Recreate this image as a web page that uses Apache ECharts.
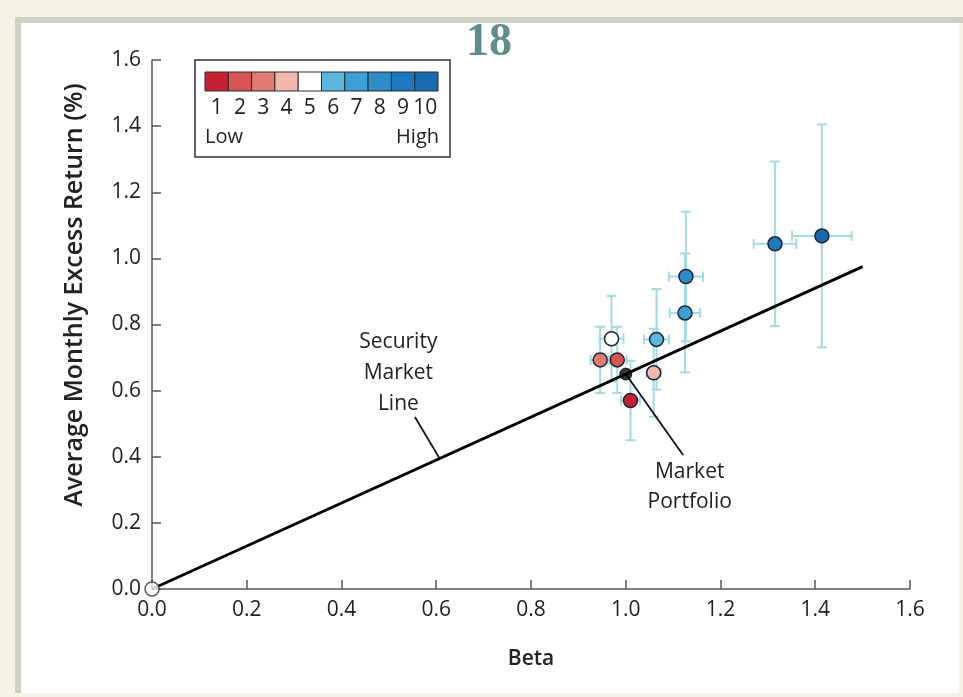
<!DOCTYPE html>
<html>
<head>
<meta charset="utf-8">
<script src="https://cdn.jsdelivr.net/npm/echarts@6/dist/echarts.min.js"></script>
<style>
  html, body { margin: 0; padding: 0; background: #f6f4e6; }
  #main { width: 963px; height: 697px; }
</style>
</head>
<body>
<div id="main"></div>
<script>
// decile portfolios, sorted by beta estimate
var deciles = [1, 2, 3, 4, 5, 6, 7, 8, 9, 10];
var betas = [1.01, 0.982, 0.946, 1.059, 0.97, 1.065, 1.125, 1.127, 1.315, 1.414];
var returns = [0.57, 0.693, 0.693, 0.654, 0.757, 0.755, 0.835, 0.945, 1.044, 1.068];
var returnErr = [0.12, 0.10, 0.10, 0.133, 0.129, 0.152, 0.18, 0.196, 0.249, 0.337];
var betaErr = [0.02, 0.02, 0.02, 0.015, 0.025, 0.026, 0.032, 0.036, 0.045, 0.063];
var decileColors = ['#c62032', '#d85555', '#e27a73', '#f2b8ae', '#ffffff',
  '#5ab6dc', '#3c9fd5', '#2d8bca', '#1e78bd', '#1a69b1'];

var smlLine = [[0, 0], [1.5, 0.975]];
var market = [1.0, 0.65];

var chart = echarts.init(document.getElementById('main'));

var font = '"Open Sans", "Noto Sans", sans-serif';
var axisColor = '#555';
var errColor = '#a3dbe2';

var points = betas.map(function (b, i) {
  return {
    value: [b, returns[i], returnErr[i], betaErr[i]],
    itemStyle: { color: decileColors[i] }
  };
});

// error bars, drawn with the chart's own coord system
function renderErr(params, api) {
  var b = api.value(0), r = api.value(1), e = api.value(2), be = api.value(3);
  var top = api.coord([b, r + e]);
  var bot = api.coord([b, r - e]);
  var left = api.coord([b - be, r]);
  var right = api.coord([b + be, r]);
  var st = { stroke: errColor, lineWidth: 2 };
  var cap = 5;
  return {
    type: 'group',
    children: [
      { type: 'line', shape: { x1: top[0], y1: top[1], x2: bot[0], y2: bot[1] }, style: st },
      { type: 'line', shape: { x1: top[0] - cap, y1: top[1], x2: top[0] + cap, y2: top[1] }, style: st },
      { type: 'line', shape: { x1: bot[0] - cap, y1: bot[1], x2: bot[0] + cap, y2: bot[1] }, style: st },
      { type: 'line', shape: { x1: left[0], y1: left[1], x2: right[0], y2: right[1] }, style: st },
      { type: 'line', shape: { x1: left[0], y1: left[1] - cap, x2: left[0], y2: left[1] + cap }, style: st },
      { type: 'line', shape: { x1: right[0], y1: right[1] - cap, x2: right[0], y2: right[1] + cap }, style: st }
    ]
  };
}

// legend box graphics
var legendX = 205, legendY = 72, cellW = 23.3, cellH = 19;
var legendItems = [
  { type: 'rect', shape: { x: 195, y: 60, width: 255, height: 97 },
    style: { fill: '#fff', stroke: '#333', lineWidth: 1.5 }, z: 100 }
];
decileColors.forEach(function (c, i) {
  legendItems.push({ type: 'rect', z: 101,
    shape: { x: legendX + i * cellW, y: legendY, width: cellW, height: cellH },
    style: { fill: c, stroke: '#2a2a2a', lineWidth: 1 } });
  legendItems.push({ type: 'text', z: 101,
    x: legendX + i * cellW + cellW / 2 + (i === 9 ? -1 : 0), y: 108,
    style: { text: String(deciles[i]), font: '21px ' + font, fill: '#222', align: 'center', verticalAlign: 'middle' } });
});
legendItems.push({ type: 'text', z: 101, x: 205, y: 137,
  style: { text: 'Low', font: '20px ' + font, fill: '#222', align: 'left', verticalAlign: 'middle' } });
legendItems.push({ type: 'text', z: 101, x: 439, y: 137,
  style: { text: 'High', font: '20px ' + font, fill: '#222', align: 'right', verticalAlign: 'middle' } });

var frame = [
  { type: 'rect', shape: { x: 21, y: 23, width: 938, height: 670 }, style: { fill: '#fff' }, z: -10 },
  { type: 'rect', shape: { x: 15, y: 17, width: 6, height: 676 }, style: { fill: '#cfcfc5' }, z: -10 },
  { type: 'rect', shape: { x: 15, y: 17, width: 948, height: 6 }, style: { fill: '#cfcfc5' }, z: -10 },
  { type: 'text', x: 489, y: 43, z: 5,
    style: { text: '18', font: 'bold 46px "Liberation Serif", serif', fill: '#5e8d8c', align: 'center', verticalAlign: 'middle' } },
  // y axis title sits above the axis middle in the original
  { type: 'text', x: 75, y: 295, rotation: Math.PI / 2, z: 5,
    style: { text: 'Average Monthly Excess Return (%)', font: '600 25px ' + font, fill: '#222',
      align: 'center', verticalAlign: 'middle' } }
];

chart.setOption({
  backgroundColor: '#f6f4e6',
  animation: false,
  grid: { left: 152, right: 53, top: 60, bottom: 108 },
  xAxis: {
    type: 'value', min: 0, max: 1.6, interval: 0.2,
    name: 'Beta', nameLocation: 'middle', nameGap: 60,
    nameTextStyle: { fontFamily: font, fontSize: 21, fontWeight: 600, color: '#222' },
    axisLine: { show: true, lineStyle: { color: axisColor, width: 1.5 } },
    axisTick: { show: true, inside: true, length: 9, lineStyle: { color: axisColor, width: 1.5 } },
    axisLabel: { fontFamily: font, fontSize: 21, color: '#222', margin: 11,
      formatter: function (v) { return v.toFixed(1); } },
    splitLine: { show: false }
  },
  yAxis: {
    type: 'value', min: 0, max: 1.6, interval: 0.2,
    axisLine: { show: true, lineStyle: { color: axisColor, width: 1.5 } },
    axisTick: { show: true, inside: true, length: 9, lineStyle: { color: axisColor, width: 1.5 } },
    axisLabel: { fontFamily: font, fontSize: 21, color: '#222', margin: 11,
      formatter: function (v) { return v.toFixed(1); } },
    splitLine: { show: false }
  },
  graphic: frame.concat(legendItems),
  series: [
    {
      type: 'custom', renderItem: renderErr, data: points.map(function (p) { return p.value; }),
      z: 1, silent: true
    },
    {
      type: 'line', data: smlLine, symbol: 'none', z: 3,
      lineStyle: { color: '#000', width: 2.8 }
    },
    {
      // leader lines for annotations
      type: 'line', data: [[0.555, 0.52], [0.607, 0.395]], symbol: 'none', z: 3,
      lineStyle: { color: '#111', width: 1.8 }
    },
    {
      type: 'line', data: [market, [1.121, 0.405]], symbol: 'none', z: 3,
      lineStyle: { color: '#111', width: 1.8 }
    },
    {
      type: 'scatter', data: points, symbolSize: 14, z: 4,
      itemStyle: { borderColor: '#1b2633', borderWidth: 1.5, opacity: 1 }
    },
    {
      type: 'scatter', data: [market], symbolSize: 12, z: 5,
      itemStyle: { color: '#000', borderColor: '#000', borderWidth: 1 }
    },
    {
      type: 'scatter', data: [[0, 0]], symbolSize: 14, z: 5,
      itemStyle: { color: '#fff', borderColor: '#333', borderWidth: 1.5 }
    }
  ]
});

// annotation texts placed at data positions
function label(x, y, lines, lh) {
  var p = chart.convertToPixel({ gridIndex: 0 }, [x, y]);
  return { type: 'text', x: p[0], y: p[1], z: 6,
    style: { text: lines.join('\n'), font: '21px ' + font, lineHeight: lh,
      fill: '#222', align: 'center', verticalAlign: 'top' } };
}
chart.setOption({
  graphic: frame.concat(legendItems).concat([
    label(0.52, 0.794, ['Security', 'Market', 'Line'], 31),
    label(1.135, 0.398, ['Market', 'Portfolio'], 30)
  ])
});
</script>
</body>
</html>
